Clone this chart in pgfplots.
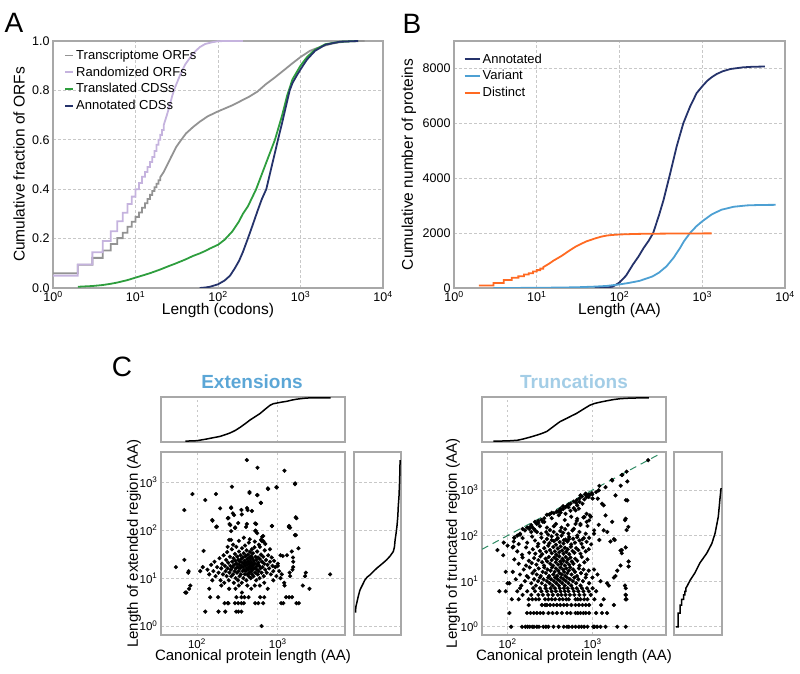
\documentclass[border=0pt]{standalone}
\usepackage{pgfplots}
\pgfplotsset{compat=1.18}
\usepackage{fontspec}
\setmainfont{Liberation Sans}
\setsansfont{Liberation Sans}
\definecolor{framegray}{HTML}{A8A8A8}
\definecolor{gridgray}{HTML}{C8C8C8}
\definecolor{cGray}{HTML}{939393}
\definecolor{cPurple}{HTML}{C5B3DE}
\definecolor{cGreen}{HTML}{2E9E3E}
\definecolor{cNavy}{HTML}{25336B}
\definecolor{cVar}{HTML}{4DA0D3}
\definecolor{cOrange}{HTML}{FF6A22}
\definecolor{cExt}{HTML}{5BA6D6}
\definecolor{cTrunc}{HTML}{A3CDE6}
\definecolor{cDiag}{HTML}{2E8B64}
\pgfkeys{/pgf/number format/.cd, assume math mode=true, 1000 sep={}}
\pgfplotsset{every axis/.append style={
    scale only axis,
    axis line style={draw=framegray, line width=1.5pt},
    major grid style={draw=gridgray, dash pattern=on 2.5pt off 2.5pt, line width=0.7pt},
    major tick length=0pt, minor tick length=0pt,
}}
\tikzset{myDots/.style={only marks, mark=*, mark size=1.9pt, black}}
\newcommand{\tp}[1]{10\textsuperscript{#1}}
\begin{document}
\begin{tikzpicture}[x=1pt,y=1pt]
\useasboundingbox (0,0) rectangle (800,673);

% ---------------- Panel A ----------------
\begin{axis}[at={(53pt,632pt)}, anchor=north west, width=330pt, height=247pt,
  xmode=log, xmin=1, xmax=10000, ymin=0, ymax=1, grid=major,
  xtick={1,10,100,1000,10000}, xticklabels={\tp{0},\tp{1},\tp{2},\tp{3},\tp{4}},
  ytick={0,0.2,0.4,0.6,0.8,1.0},
  tick label style={font=\fontsize{12.5}{14}\selectfont},
  label style={font=\fontsize{15.5}{17}\selectfont},
  yticklabel style={/pgf/number format/.cd, fixed, fixed zerofill, precision=1},
  xlabel={Length (codons)}, ylabel={Cumulative fraction of ORFs},
  xlabel style={at={(axis description cs:0.5,-0.09)}, anchor=center, inner sep=0pt},
  ylabel style={at={(axis description cs:-0.103,0.5)}, anchor=center},
  legend style={at={(axis description cs:0.025,0.98)}, anchor=north west, draw=none, fill=none,
    font=\fontsize{13}{15}\selectfont, row sep=1.8pt, cells={anchor=west}},
  legend image code/.code={\draw[#1, line width=1.8pt] (0pt,0pt) -- (8pt,0pt);},
]
\addplot[cGray, line width=1.8pt] coordinates {(1,0.060)(2,0.060)(2,0.094)(3,0.094)(3,0.122)(4,0.122)(4,0.152)(5,0.152)(5,0.178)(6,0.178)(6,0.202)(7,0.202)(7,0.224)(8,0.224)(8,0.248)(9,0.248)(9,0.268)(10,0.268)(10,0.288)(11,0.288)(11,0.306)(12,0.306)(12,0.325)(13,0.325)(13,0.343)(14,0.343)(14,0.36)(15,0.36)(15,0.377)(16,0.377)(16,0.393)(17,0.393)(17,0.408)(18,0.408)(18,0.422)(19,0.422)(19,0.436)(20,0.436)(20,0.449)(22,0.47)(24,0.495)(27,0.53)(31,0.57)(35,0.595)(41,0.626)(50,0.652)(60,0.673)(75,0.695)(100,0.715)(150,0.74)(240,0.775)(300,0.795)(380,0.825)(500,0.855)(620,0.88)(800,0.91)(1000,0.935)(1300,0.96)(1550,0.97)(2000,0.982)(2450,0.99)(3000,0.995)(4000,0.999)(6000,1.0)};
\addlegendentry{Transcriptome ORFs}
\addplot[cPurple, line width=1.8pt] coordinates {(1,0.05)(2,0.05)(2,0.095)(3,0.095)(3,0.145)(4,0.145)(4,0.19)(5,0.19)(5,0.23)(6,0.23)(6,0.27)(7,0.27)(7,0.305)(8,0.305)(8,0.34)(9,0.34)(9,0.37)(10,0.37)(10,0.40)(11,0.40)(11,0.425)(12,0.425)(12,0.45)(13,0.45)(13,0.47)(14,0.47)(14,0.49)(15,0.49)(15,0.51)(16,0.51)(16,0.53)(17,0.53)(17,0.555)(18,0.555)(18,0.58)(19,0.58)(19,0.60)(20,0.60)(20,0.62)(21,0.62)(21,0.64)(22,0.64)(22,0.66)(24,0.70)(26,0.74)(28,0.78)(30,0.81)(35,0.865)(40,0.905)(50,0.95)(60,0.975)(70,0.988)(85,0.995)(100,0.999)(120,1.0)(200,1.0)};
\addlegendentry{Randomized ORFs}
\addplot[cGreen, line width=1.8pt] coordinates {(2,0.005)(3,0.008)(4,0.012)(5,0.017)(6,0.022)(8,0.032)(10,0.042)(12,0.05)(15,0.06)(20,0.075)(25,0.088)(30,0.098)(40,0.115)(50,0.13)(60,0.14)(70,0.15)(80,0.16)(100,0.175)(120,0.195)(150,0.23)(180,0.27)(200,0.30)(230,0.33)(250,0.355)(290,0.40)(350,0.472)(400,0.523)(490,0.60)(600,0.70)(690,0.78)(800,0.845)(1000,0.90)(1200,0.935)(1500,0.965)(2000,0.987)(3000,0.997)(5000,1.0)};
\addlegendentry{Translated CDSs}
\addplot[cNavy, line width=1.8pt] coordinates {(60,0)(70,0.002)(80,0.005)(100,0.015)(120,0.03)(140,0.05)(160,0.08)(180,0.11)(200,0.145)(230,0.2)(260,0.25)(300,0.31)(340,0.36)(385,0.40)(450,0.496)(500,0.56)(533,0.60)(600,0.67)(650,0.72)(740,0.80)(800,0.83)(900,0.86)(1000,0.885)(1200,0.925)(1500,0.96)(2000,0.985)(3000,0.997)(5000,1.0)};
\addlegendentry{Annotated CDSs}
\end{axis}

% ---------------- Panel B ----------------
\begin{axis}[at={(454pt,632pt)}, anchor=north west, width=331pt, height=247pt,
  xmode=log, xmin=1, xmax=10000, ymin=0, ymax=9000, grid=major,
  xtick={1,10,100,1000,10000}, xticklabels={\tp{0},\tp{1},\tp{2},\tp{3},\tp{4}},
  ytick={0,2000,4000,6000,8000},
  tick label style={font=\fontsize{12.5}{14}\selectfont},
  label style={font=\fontsize{15.5}{17}\selectfont},
  xlabel={Length (AA)}, ylabel={Cumulative number of proteins},
  xlabel style={at={(axis description cs:0.5,-0.09)}, anchor=center, inner sep=0pt},
  ylabel style={at={(axis description cs:-0.136,0.5)}, anchor=center},
  legend style={at={(axis description cs:0.02,0.965)}, anchor=north west, draw=none, fill=none,
    font=\fontsize{13}{15}\selectfont, row sep=1.8pt, cells={anchor=west}},
  legend image code/.code={\draw[#1, line width=1.8pt] (0pt,0pt) -- (15pt,0pt);},
]
\addplot[cNavy, line width=1.8pt] coordinates {(50,0)(70,15)(83,50)(100,200)(120,450)(145,850)(170,1150)(195,1450)(225,1720)(255,2000)(300,2650)(340,3200)(410,4180)(490,5150)(590,6000)(710,6600)(855,7100)(1000,7350)(1150,7550)(1300,7680)(1500,7800)(1780,7900)(2200,7980)(3100,8040)(4000,8060)(5700,8070)};
\addlegendentry{Annotated}
\addplot[cVar, line width=1.8pt] coordinates {(3,0)(10,5)(30,25)(50,50)(70,75)(100,130)(130,185)(175,260)(250,420)(300,560)(370,790)(450,1100)(537,1450)(600,1700)(710,2000)(850,2250)(1000,2430)(1300,2680)(1700,2850)(2400,2960)(3500,3010)(5000,3025)(7700,3030)};
\addlegendentry{Variant}
\addplot[cOrange, line width=1.8pt] coordinates {(2,90)(3,90)(3,180)(4,180)(4,290)(5,290)(5,370)(6,370)(6,430)(7,430)(7,490)(8,490)(8,540)(9,540)(9,600)(10,600)(10,650)(11,650)(11,705)(12,705)(12,760)(14,880)(16,1000)(20,1170)(25,1370)(30,1520)(35,1620)(40,1700)(50,1800)(60,1870)(70,1910)(80,1930)(100,1950)(150,1968)(200,1975)(400,1983)(800,1988)(1300,1990)};
\addlegendentry{Distinct}
\end{axis}

% ---------------- Panel C: Extensions ----------------
\begin{axis}[at={(161pt,276pt)}, anchor=north west, width=184pt, height=45pt,
  xmode=log, xmin=36, xmax=6770, ymin=-0.02, ymax=1.02,
  xtick={100,1000}, xticklabels={}, ytick=\empty, xmajorgrids]
\addplot[black, line width=1.5pt] coordinates {(72,0)(100,0.01)(133,0.05)(160,0.08)(194,0.11)(225,0.15)(258,0.19)(300,0.25)(343,0.32)(400,0.41)(455,0.49)(530,0.57)(605,0.64)(700,0.74)(804,0.83)(880,0.865)(973,0.88)(1100,0.90)(1290,0.92)(1500,0.95)(1718,0.97)(2100,0.99)(2500,1.0)(4500,1.0)};
\end{axis}
\begin{axis}[at={(161pt,221pt)}, anchor=north west, width=184pt, height=183pt,
  xmode=log, ymode=log, xmin=36, xmax=6770, ymin=0.65, ymax=4300, grid=major,
  xtick={100,1000}, xticklabels={\tp{2},\tp{3}},
  ytick={1,10,100,1000}, yticklabels={\tp{0},\tp{1},\tp{2},\tp{3}},
  tick label style={font=\fontsize{11.5}{13}\selectfont},
  label style={font=\fontsize{15}{17}\selectfont},
  xlabel={Canonical protein length (AA)}, ylabel={Length of extended region (AA)},
  xlabel style={at={(axis description cs:0.5,-0.12)}, anchor=center},
  ylabel style={at={(axis description cs:-0.147,0.5)}, anchor=center}]
\addplot[myDots] coordinates {
(135,15)(142,12)(150,19)(155,9)(160,14)(165,22)(170,11)(178,17)(185,13)(190,26)(196,9)(200,16)(205,20)(210,12)(214,30)(218,8)(222,18)(226,14)(230,24)(233,11)(237,35)(240,16)(244,21)(248,9)(252,13)(256,28)(260,18)(263,15)(266,11)(270,40)(273,22)(276,17)(280,12)(283,26)(286,8)(289,19)(292,14)(295,32)(298,23)(301,10)(304,16)(307,45)(310,20)(313,13)(316,28)(319,17)(322,9)(325,24)(328,14)(331,36)(334,19)(337,11)(340,22)(343,16)(346,30)(349,12)(352,25)(355,18)(358,8)(361,42)(364,21)(367,14)(370,27)(373,17)(376,10)(379,33)(382,20)(385,15)(388,23)(391,12)(394,48)(397,18)(400,29)(403,14)(406,21)(409,9)(412,38)(415,16)(418,25)(421,12)(424,19)(427,31)(430,15)(433,22)(436,11)(439,55)(442,17)(445,27)(448,13)(451,20)(454,35)(457,16)(460,24)(463,10)(466,18)(469,29)(472,14)(475,21)(478,40)(481,12)(484,17)(487,26)(490,15)(493,33)(496,19)(500,11)(505,23)(510,16)(515,44)(520,20)(525,13)(530,28)(535,17)(540,9)(545,24)(550,15)(555,36)(560,19)(565,12)(570,27)(575,21)(580,14)(585,50)(590,18)(595,10)(600,25)(610,16)(620,31)(630,13)(640,22)(650,17)(660,28)(670,11)(680,20)(690,38)(700,15)(715,24)(730,13)(745,19)(760,30)(780,16)(800,22)(820,12)(840,27)(860,18)(880,14)(900,23)(930,17)(960,11)(1000,20)
(330,60)(450,65)(520,58)(280,50)(600,45)(380,70)(240,45)(700,52)(800,40)(420,7)(470,6)(300,6)(520,7)(360,5)(250,6)(600,7)(680,8)(750,6)(880,9)(200,7)(330,7)
(55,17)(70,24)(72,5)(74,5)(79,14)(78,13)(83,7)(80,6)(110,14)(118,17)(121,37)(127,2)(142,6)(146,4)(183,4)(185,2)(220,3)(224,2)(240,3)(245,3)(295,3)(305,2)(308,4)(324,3)(325,2)(355,3)(355,4)(355,2)(380,3)(387,4)(435,4)(525,3)(575,3)(605,4)(630,1)(660,3)(680,4)(1100,3)(1170,3)(1265,4)(1380,4)(1500,4)(1700,3)(1820,3)(2040,7)(2170,11)(2460,6)(2220,13)(4430,12)(1800,42)(1490,36)(1540,27)(1550,22)(1550,17)(1520,15)(1400,13)(1420,11)(1200,8)(1210,7)(1080,30)(1150,29)(1300,30)(1000,18)(1040,14)(1120,12)(1080,10)
(414,2920)(561,2020)(1208,1750)(88,570)(127,427)(172,570)(271,810)(447,630)(447,600)(561,543)(616,376)(753,748)(972,785)(1637,951)(70,264)(194,286)(265,300)(423,264)(478,252)(278,225)(241,177)(359,214)(156,158)(176,119)(253,135)(297,115)(414,135)(525,139)(530,98)(843,122)(1368,119)(1419,113)(1667,79)(1667,186)(641,73)(666,59)
(265,290)(355,265)(417,290)(155,163)(245,180)(288,208)(259,128)(324,141)(297,111)(405,117)(174,117)(265,96)(250,63)(265,63)
(1630,915)(760,725)(960,795)(556,540)(620,370)(1700,178)(540,135)(850,123)(1380,123)(1380,115)(530,96)(556,87)(660,76)(1630,79)(620,63)(640,59)};
\end{axis}
\begin{axis}[at={(354pt,221pt)}, anchor=north west, width=47pt, height=183pt,
  ymode=log, ymin=0.65, ymax=4300, xmin=-0.02, xmax=1.02,
  ytick={1,10,100,1000}, yticklabels={}, xtick=\empty, ymajorgrids]
\addplot[black, line width=1.5pt] coordinates {(0.015,1.9)(0.02,2.5)(0.04,3)(0.07,4)(0.11,5.6)(0.16,7)(0.22,9.1)(0.27,10.5)(0.33,11.6)(0.40,13.5)(0.48,16)(0.56,18.5)(0.63,21)(0.70,24)(0.78,29)(0.85,36)(0.875,45)(0.89,63)(0.91,85)(0.93,120)(0.95,200)(0.96,320)(0.975,500)(0.99,1100)(1.0,2900)};
\end{axis}

% ---------------- Panel C: Truncations ----------------
\begin{axis}[at={(482pt,276pt)}, anchor=north west, width=184pt, height=45pt,
  xmode=log, xmin=50, xmax=7300, ymin=-0.02, ymax=1.02,
  xtick={100,1000}, xticklabels={}, ytick=\empty, xmajorgrids]
\addplot[black, line width=1.5pt] coordinates {(68,0)(100,0.005)(130,0.02)(153,0.05)(190,0.10)(230,0.15)(263,0.19)(290,0.225)(347,0.34)(413,0.45)(500,0.53)(560,0.58)(646,0.64)(780,0.74)(927,0.83)(1050,0.87)(1220,0.90)(1450,0.93)(1750,0.96)(2100,0.98)(2500,0.99)(3600,1.0)(4600,1.0)};
\end{axis}
\begin{axis}[at={(482pt,221pt)}, anchor=north west, width=184pt, height=183pt,
  xmode=log, ymode=log, xmin=50, xmax=7300, ymin=0.66, ymax=6800, grid=major,
  xtick={100,1000}, xticklabels={\tp{2},\tp{3}},
  ytick={1,10,100,1000}, yticklabels={\tp{0},\tp{1},\tp{2},\tp{3}},
  tick label style={font=\fontsize{11.5}{13}\selectfont},
  label style={font=\fontsize{15}{17}\selectfont},
  xlabel={Canonical protein length (AA)}, ylabel={Length of truncated region (AA)},
  xlabel style={at={(axis description cs:0.5,-0.12)}, anchor=center},
  ylabel style={at={(axis description cs:-0.158,0.5)}, anchor=center}]
\addplot[cDiag, line width=1pt, dash pattern=on 7pt off 5pt] coordinates {(50,50)(5800,5800)};
\addplot[myDots] coordinates {
(110,1)(148,1)(162,1)(172,1)(182,1)(195,1)(204,1)(221,1)(234,1)(263,1)(282,1)(302,1)(347,1)(398,1)(457,1)(500,1)(525,1)(575,1)(630,1)(690,1)(740,1)(795,1)(870,1)(1020,1)(1050,1)(1130,1)(1240,1)(1420,1)(1950,1)(2450,1)
(105,2)(169,2)(186,2)(203,2)(221,2)(242,2)(263,2)(302,2)(338,2)(380,2)(435,2)(500,2)(550,2)(630,2)(670,2)(720,2)(780,2)(830,2)(910,2)(1100,2)(1290,2)(1480,2)
(177,3)(253,3)(276,3)(290,3)(316,3)(347,3)(380,3)(417,3)(457,3)(500,3)(562,3)(630,3)(690,3)(760,3)(830,3)(910,3)(1260,3)(1780,3)
(112,4)(135,4)(177,4)(195,4)(215,4)(234,4)(276,4)(302,4)(331,4)(363,4)(407,4)(446,4)(490,4)(525,4)(630,4)(670,4)(720,4)(795,4)(870,4)(1050,4)(1350,4)(2450,4)(2500,4)
(150,5)(190,5)(230,5)(260,5)(300,5)(340,5)(390,5)(430,5)(480,5)(540,5)(610,5)(700,5)(800,5)(950,5)(2450,5)
(95,6)(130,6)(170,6)(210,6)(250,6)(290,6)(330,6)(370,6)(420,6)(470,6)(520,6)(600,6)(680,6)(780,6)(900,6)(1100,6)(80,6)
(140,7)(200,7)(240,7)(280,7)(320,7)(360,7)(410,7)(460,7)(510,7)(580,7)(650,7)(750,7)(860,7)(1000,7)(2450,7)
(105,9)(125,11)(145,8)(160,10)(175,12)(190,9)(205,11)(215,8)(228,10)(240,12)(252,9)(265,11)(278,8)(290,10)(300,12)(312,9)(325,11)(338,8)(350,10)(362,12)(375,9)(388,11)(400,8)(412,10)(425,12)(440,9)(455,11)(470,8)(485,10)(500,12)(520,9)(540,11)(560,8)(585,10)(610,12)(640,9)(680,11)(720,8)(770,10)(830,12)(910,9)(995,12)(1240,10)(1480,9)(1550,8)(100,9)
(115,16)(140,14)(155,18)(168,13)(182,20)(196,15)(208,17)(220,14)(232,19)(245,13)(258,16)(270,20)(282,15)(295,18)(308,13)(320,17)(333,20)(345,14)(357,16)(370,19)(383,13)(395,17)(408,15)(420,20)(433,14)(448,18)(462,16)(476,13)(490,19)(505,15)(525,17)(545,20)(565,14)(590,18)(620,16)(655,13)(690,19)(730,15)(780,18)(840,14)(900,17)(1140,14)(1780,12)(1860,13)(1950,17)(95,16)
(120,30)(135,24)(150,33)(165,22)(178,28)(192,25)(205,32)(218,23)(230,29)(243,35)(255,26)(268,22)(280,31)(293,27)(305,34)(318,24)(330,29)(343,22)(355,33)(368,26)(380,30)(393,23)(405,35)(418,27)(430,24)(443,31)(456,28)(470,22)(483,34)(497,26)(512,30)(530,23)(550,33)(570,27)(595,24)(625,31)(660,28)(700,22)(745,34)(800,26)(870,30)(1040,18)(2130,22)(2650,27)(2650,21)
(130,45)(148,38)(165,55)(180,42)(198,50)(212,40)(226,58)(240,46)(255,39)(270,53)(285,44)(300,60)(315,48)(330,41)(345,56)(360,45)(375,38)(390,52)(405,43)(420,58)(438,47)(455,40)(472,54)(490,44)(510,50)(530,39)(555,57)(580,46)(610,42)(640,53)(680,48)(720,40)(770,55)(830,45)(900,50)(2200,48)(2200,41)(2130,47)(2450,55)(76,48)(89,37)
(118,74)(135,65)(150,88)(170,70)(194,95)(210,78)(230,66)(250,90)(270,72)(290,84)(310,68)(330,96)(350,76)(370,63)(390,88)(410,72)(430,99)(455,67)(480,82)(505,74)(530,93)(560,64)(590,85)(620,70)(660,92)(700,78)(740,66)(790,88)(850,73)(960,64)(1200,80)(1820,80)(1780,83)(1620,74)(117,57)(120,89)(330,79)(380,83)(457,79)(525,83)
(194,154)(203,141)(221,120)(248,110)(315,132)(348,120)(417,126)(476,138)(160,130)(180,140)(220,180)(260,200)(290,150)(330,240)(370,180)(400,280)(430,150)(470,220)(510,170)(560,260)(600,140)(650,210)(720,170)(780,250)(850,200)(950,260)(1040,110)(830,110)(910,89)(760,83)(660,100)(1040,130)(1350,130)(1490,120)(2450,234)(1420,277)(1700,200)(1180,172)(870,162)(720,180)(630,180)(660,234)(910,215)(800,255)(930,277)(850,300)(285,120)(300,105)(240,160)(190,120)(210,130)(140,105)(520,110)(450,115)(380,105)(350,160)(580,130)(700,120)(270,200)(230,190)(180,150)
(290,286)(330,316)(417,356)(500,445)(550,500)(990,795)(910,795)(830,830)(720,760)(760,500)(660,460)(690,390)(630,357)(1150,645)(1860,760)(1290,500)(1350,460)(2560,590)(600,400)(550,350)(480,300)(420,320)(380,330)(350,310)(450,380)(700,550)(800,620)(900,700)(520,420)(640,520)(1000,650)(1100,900)
(4500,4500)(2240,2140)(1700,1620)(1420,1150)(1180,980)(2560,1540)(2460,600)(2400,218)(2630,155)(2510,132)(2400,8)(2450,5)(2510,2520)(2200,2130)(1680,1660)(1200,1230)(2140,1240)(980,850)(900,770)(820,800)(850,700)(750,720)(700,650)(650,600)(600,560)(520,480)(480,420)(450,440)(420,390)(400,350)(380,340)(310,290)(270,240)(250,220)(230,210)(210,200)(190,170)(170,150)(150,140)(140,110)(130,100)(120,90)(115,55)(100,60)(90,70)};
\end{axis}
\begin{axis}[at={(674pt,221pt)}, anchor=north west, width=48pt, height=183pt,
  ymode=log, ymin=0.66, ymax=6800, xmin=-0.02, xmax=1.02,
  ytick={1,10,100,1000}, yticklabels={}, xtick=\empty, ymajorgrids]
\addplot[black, line width=1.5pt] coordinates {(0.02,1)(0.07,1)(0.07,2)(0.11,2)(0.11,3)(0.145,3)(0.145,4)(0.19,4)(0.19,5)(0.215,5)(0.215,6)(0.235,6)(0.235,7)(0.255,7.5)(0.33,10.5)(0.43,15)(0.54,25)(0.69,41)(0.80,67)(0.87,112)(0.94,260)(0.98,710)(1.0,1100)};
\end{axis}

% titles and panel letters
\node[font=\fontsize{19}{22}\selectfont\bfseries, text=cExt] at (252,291.5) {Extensions};
\node[font=\fontsize{19}{22}\selectfont\bfseries, text=cTrunc] at (574,291.5) {Truncations};
\node[font=\fontsize{28}{30}\selectfont] at (14,650) {A};
\node[font=\fontsize{28}{30}\selectfont] at (412,649) {B};
\node[font=\fontsize{28}{30}\selectfont] at (122,306) {C};
\end{tikzpicture}
\end{document}
